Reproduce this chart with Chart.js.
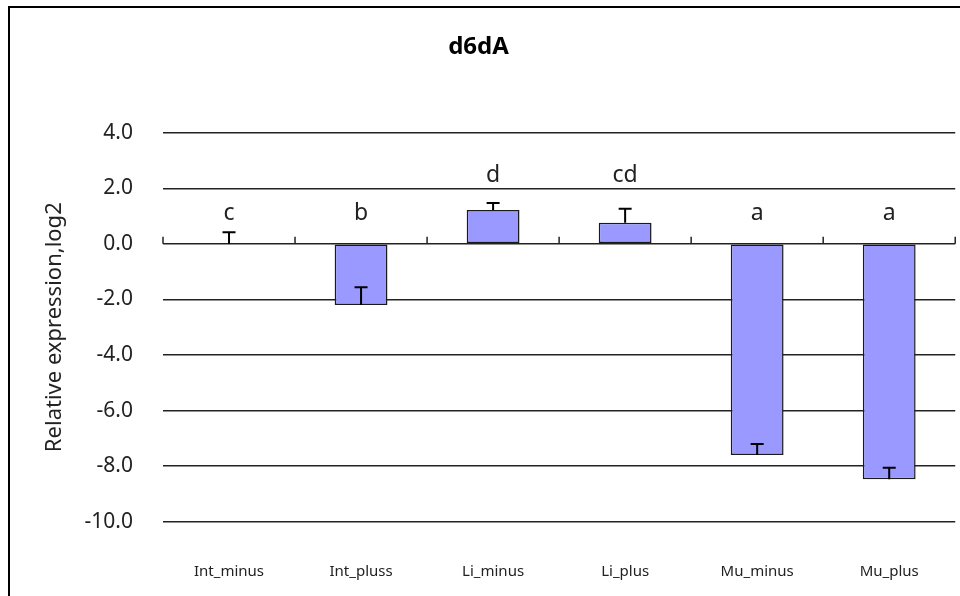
<!DOCTYPE html>
<html>
<head>
<meta charset="utf-8">
<script src="https://cdn.jsdelivr.net/npm/chart.js@4/dist/chart.umd.min.js"></script>
<style>
  html, body { margin: 0; padding: 0; background: #fff; }
  canvas { display: block; }
</style>
</head>
<body>
<canvas id="chart" width="960" height="596"></canvas>
<script>
// categories and values
const categories = ['Int_minus', 'Int_pluss', 'Li_minus', 'Li_plus', 'Mu_minus', 'Mu_plus'];
const means = [0, -2.2, 1.22, 0.76, -7.6, -8.47];
const errors = [0.42, 0.64, 0.25, 0.5, 0.4, 0.41];
const letters = ['c', 'b', 'd', 'cd', 'a', 'a'];
const letterPos = [1.1, 1.1, 2.45, 2.45, 1.1, 1.1];
const yMin = -10, yMax = 4, yStep = 2;

const FONT = '"Noto Sans", "DejaVu Sans", sans-serif';

// white background + outer frame
const framePlugin = {
    id: 'frame',
    beforeDraw(chart) {
        const ctx = chart.ctx;
        ctx.save();
        ctx.fillStyle = '#fff';
        ctx.fillRect(0, 0, chart.width, chart.height);
        ctx.strokeStyle = '#000';
        ctx.lineWidth = 2;
        ctx.strokeRect(9, 7, 1000, 1000);
        ctx.restore();
    }
};

// small upward ticks on the zero line at category boundaries
const zeroTicks = {
    id: 'zeroTicks',
    afterDraw(chart) {
        const x = chart.scales.x, y = chart.scales.y;
        const ctx = chart.ctx;
        const y0 = y.getPixelForValue(0);
        const w = (x.right - x.left) / categories.length;
        ctx.save();
        ctx.strokeStyle = '#222';
        ctx.lineWidth = 1.5;
        for (let i = 0; i <= categories.length; i++) {
            const px = x.left + i * w;
            ctx.beginPath();
            ctx.moveTo(px, y0);
            ctx.lineTo(px, y0 - 7);
            ctx.stroke();
        }
        ctx.restore();
    }
};

// one-sided (plus) error bars + letter labels
const errorBars = {
    id: 'errorBars',
    afterDatasetsDraw(chart) {
        const ctx = chart.ctx;
        const y = chart.scales.y;
        const meta = chart.getDatasetMeta(0);
        ctx.save();
        ctx.strokeStyle = '#000';
        ctx.lineWidth = 2;
        meta.data.forEach((el, i) => {
            const ya = y.getPixelForValue(means[i]);
            const yb = y.getPixelForValue(means[i] + errors[i]);
            ctx.beginPath();
            ctx.moveTo(el.x, ya);
            ctx.lineTo(el.x, yb);
            ctx.moveTo(el.x - 6.5, yb);
            ctx.lineTo(el.x + 6.5, yb);
            ctx.stroke();
        });
        ctx.fillStyle = '#222';
        ctx.font = '23px ' + FONT;
        ctx.textAlign = 'center';
        ctx.textBaseline = 'middle';
        meta.data.forEach((el, i) => {
            ctx.fillText(letters[i], el.x, y.getPixelForValue(letterPos[i]));
        });
        ctx.restore();
    }
};

new Chart(document.getElementById('chart'), {
    type: 'bar',
    data: {
        labels: categories,
        datasets: [{
            data: means,
            backgroundColor: '#9999FF',
            borderColor: '#1a1a1a',
            borderWidth: 1.5,
            borderSkipped: false,
            categoryPercentage: 1,
            barPercentage: 0.4
        }]
    },
    options: {
        responsive: false,
        animation: false,
        devicePixelRatio: 1,
        layout: { padding: { left: 0, right: 3, top: 0, bottom: 0 } },
        plugins: {
            legend: { display: false },
            tooltip: { enabled: false },
            title: {
                display: true,
                text: 'd6dA',
                color: '#000',
                font: { family: FONT, size: 24, weight: 'bold' },
                padding: { top: 32.6, bottom: 71.3 }
            }
        },
        scales: {
            x: {
                grid: { display: false, drawTicks: false },
                border: { display: false },
                ticks: { color: '#222', font: { family: FONT, size: 15 }, padding: 41, maxRotation: 0 },
                afterFit(scale) { scale.height = 74.3; }
            },
            y: {
                min: yMin,
                max: yMax,
                grid: { color: '#222', lineWidth: 1.5, drawTicks: false },
                border: { display: false },
                ticks: {
                    stepSize: yStep,
                    color: '#222',
                    font: { family: FONT, size: 21 },
                    padding: 30,
                    callback: v => v.toFixed(1)
                },
                title: {
                    display: true,
                    text: 'Relative expression,log2',
                    color: '#222',
                    font: { family: FONT, size: 22 },
                    padding: { top: 42, bottom: 0 }
                },
                afterFit(scale) { scale.width = 163; }
            }
        }
    },
    plugins: [framePlugin, zeroTicks, errorBars]
});
</script>
</body>
</html>
